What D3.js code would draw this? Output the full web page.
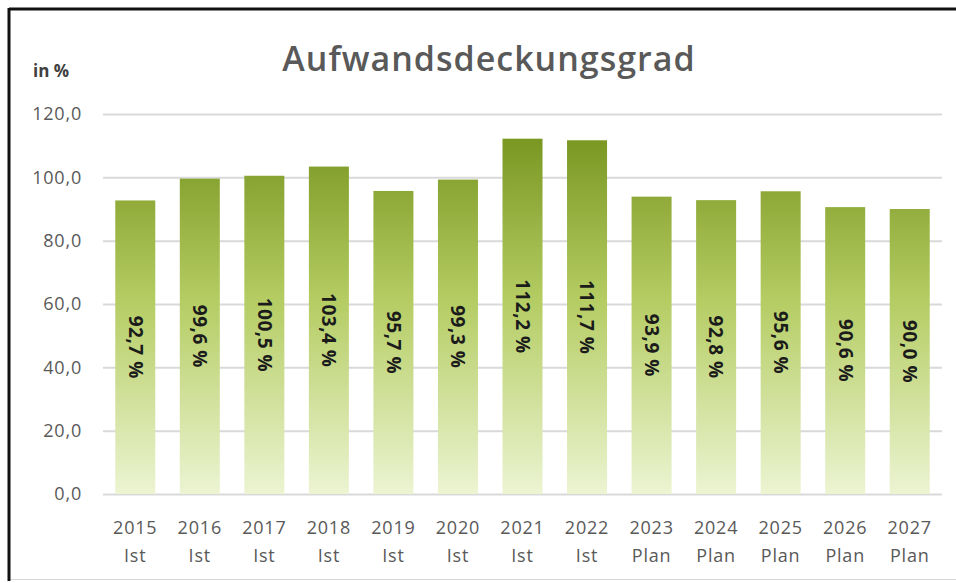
<!DOCTYPE html>
<html>
<head>
<meta charset="utf-8">
<script src="https://cdn.jsdelivr.net/npm/d3@7"></script>
<style>
  body { margin: 0; background: #fff; }
  text { font-family: "Open Sans", "DejaVu Sans", sans-serif; }
</style>
</head>
<body>
<div id="chart"></div>
<script>
// Aufwandsdeckungsgrad 2015-2027
const years = ["2015","2016","2017","2018","2019","2020","2021","2022","2023","2024","2025","2026","2027"];
const kinds = ["Ist","Ist","Ist","Ist","Ist","Ist","Ist","Ist","Plan","Plan","Plan","Plan","Plan"];
const values = [92.7, 99.6, 100.5, 103.4, 95.7, 99.3, 112.2, 111.7, 93.9, 92.8, 95.6, 90.6, 90.0];
const yTicks = [0, 20, 40, 60, 80, 100, 120];

const width = 956,
  height = 583,
  margin = {top: 114, right: 14, bottom: 89, left: 103};

const svg = d3.select("#chart")
  .append("svg")
  .attr("width", width)
  .attr("height", height);

// frame of the pasted chart
svg.append("rect")
  .attr("x", 9.5).attr("y", 9.5)
  .attr("width", 960).attr("height", 570)
  .attr("fill", "none")
  .attr("stroke", "#d8d8d8");
svg.append("line").attr("x1", 9).attr("x2", 956).attr("y1", 9).attr("y2", 9)
  .attr("stroke", "#111").attr("stroke-width", 3);
svg.append("line").attr("x1", 9).attr("x2", 9).attr("y1", 8).attr("y2", 581)
  .attr("stroke", "#111").attr("stroke-width", 3);

let x = d3.scaleBand(years, [margin.left, width - margin.right])
  .paddingInner(0.38)
  .paddingOuter(0.19);

let y = d3.scaleLinear([0, 120], [height - margin.bottom, margin.top]);

const defs = svg.append("defs");
const grad = defs.append("linearGradient")
  .attr("id", "barGrad")
  .attr("gradientUnits", "userSpaceOnUse")
  .attr("x1", 0).attr("x2", 0)
  .attr("y1", y(112.2)).attr("y2", y(0));
grad.append("stop").attr("offset", "0%").attr("stop-color", "#7a9722");
grad.append("stop").attr("offset", "45%").attr("stop-color", "#b4cc62");
grad.append("stop").attr("offset", "100%").attr("stop-color", "#ecf4d2");

// gridlines
svg.append("g")
  .attr("transform", `translate(${margin.left},0)`)
  .call(d3.axisLeft(y).tickValues(yTicks).tickSize(-(width - margin.left - margin.right)).tickFormat(""))
  .call(g => g.select(".domain").remove())
  .call(g => g.selectAll(".tick line").attr("stroke", "#d9d9d9").attr("stroke-width", 2));

// y tick labels
svg.append("g")
  .selectAll("text")
  .data(yTicks)
  .join("text")
  .attr("x", 82)
  .attr("y", d => y(d))
  .attr("dy", "0.35em")
  .attr("text-anchor", "end")
  .attr("fill", "#595959")
  .style("font-size", "18px")
  .style("letter-spacing", "0.8px")
  .text(d => d3.format(".1f")(d).replace(".", ","));

// bars
svg.append("g")
  .selectAll("rect")
  .data(values)
  .join("rect")
  .attr("x", (d, i) => x(years[i]))
  .attr("y", d => y(d))
  .attr("width", x.bandwidth())
  .attr("height", d => y(0) - y(d))
  .attr("fill", "url(#barGrad)");

// value labels, rotated
svg.append("g")
  .selectAll("text")
  .data(values)
  .join("text")
  .attr("transform", (d, i) => `translate(${x(years[i]) + x.bandwidth() / 2},${y(d / 2)}) rotate(90)`)
  .attr("text-anchor", "middle")
  .attr("dy", "0.35em")
  .attr("fill", "#1b1b1b")
  .style("font-size", "19px")
  .style("font-weight", "bold")
  .style("letter-spacing", "0.5px")
  .text(d => d3.format(".1f")(d).replace(".", ",") + " %");

// x labels
const xl = svg.append("g")
  .selectAll("text")
  .data(years)
  .join("text")
  .attr("text-anchor", "middle")
  .attr("fill", "#595959")
  .style("font-size", "18px")
  .style("letter-spacing", "0.8px");
xl.append("tspan")
  .attr("x", d => x(d) + x.bandwidth() / 2)
  .attr("y", 534)
  .text(d => d);
xl.append("tspan")
  .attr("x", d => x(d) + x.bandwidth() / 2)
  .attr("y", 562)
  .text((d, i) => kinds[i]);

// title and unit
svg.append("text")
  .attr("x", 489)
  .attr("y", 71)
  .attr("text-anchor", "middle")
  .attr("fill", "#595959")
  .style("font-size", "34px")
  .style("font-weight", "600")
  .style("letter-spacing", "1px")
  .text("Aufwandsdeckungsgrad");

svg.append("text")
  .attr("x", 33)
  .attr("y", 77)
  .attr("fill", "#404040")
  .style("font-size", "17px")
  .style("font-weight", "bold")
  .text("in %");
</script>
</body>
</html>
